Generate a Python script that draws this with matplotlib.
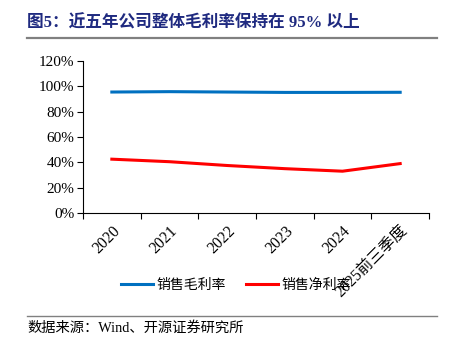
import matplotlib.pyplot as plt
from matplotlib.lines import Line2D

plt.rcParams['font.family'] = ['Liberation Serif', 'Noto Sans CJK SC']

years = ["2020", "2021", "2022", "2023", "2024", "2025前三季度"]
gross_margin = [95.5, 95.8, 95.5, 95.2, 95.2, 95.3]
net_margin = [42.5, 40.5, 37.5, 35.0, 33.0, 39.0]

fig = plt.figure(figsize=(4.57, 3.48), dpi=100)
ax = fig.add_axes([83 / 457, 1 - 213 / 348, (429 - 83) / 457, (213 - 61) / 348])

x = range(len(years))
ax.plot(x, gross_margin, color="#0070C0", lw=2.2, label="销售毛利率")
ax.plot(x, net_margin, color="#FF0000", lw=2.2, label="销售净利率")

ax.set_xlim(-0.5, len(years) - 0.5)
ax.set_ylim(0, 120)
ax.set_yticks(range(0, 121, 20))
ax.set_yticklabels([f"{v}%" for v in range(0, 121, 20)], fontsize=11)
ax.set_xticks([i - 0.5 for i in range(len(years) + 1)])
ax.set_xticklabels([])
ax.set_xticks(list(x), minor=True)
ax.set_xticklabels(years, minor=True, rotation=45, ha="right", va="top",
                   rotation_mode="anchor", fontsize=11.3)
ax.tick_params(axis="x", which="minor", length=0, pad=7)
ax.tick_params(axis="x", which="major", length=4, direction="out")
ax.tick_params(axis="y", length=4, direction="out", pad=2)
for s in ["top", "right"]:
    ax.spines[s].set_visible(False)

handles = [Line2D([], [], color="#0070C0", lw=2.2), Line2D([], [], color="#FF0000", lw=2.2)]
fig.legend(handles, ["销售毛利率", "销售净利率"], loc="center", bbox_to_anchor=(236 / 457, 1 - 285 / 348),
           ncol=2, frameon=False, fontsize=10, handlelength=2.3, handletextpad=0.3, columnspacing=1.4)

fig.text(27 / 457, 1 - 23 / 348, "图5：近五年公司整体毛利率保持在 95% 以上", fontsize=12,
         fontweight="bold", color="#1F2A80", va="center", ha="left")
fig.add_artist(Line2D([27 / 457, 437 / 457], [1 - 38 / 348, 1 - 38 / 348], color="#808080", lw=1.6))
fig.add_artist(Line2D([27 / 457, 437 / 457], [1 - 316 / 348, 1 - 316 / 348], color="#808080", lw=1.0))
fig.text(27 / 457, 1 - 328 / 348, "数据来源：Wind、开源证券研究所", fontsize=10.3, va="center", ha="left")

fig.savefig("out.png", dpi=100)
